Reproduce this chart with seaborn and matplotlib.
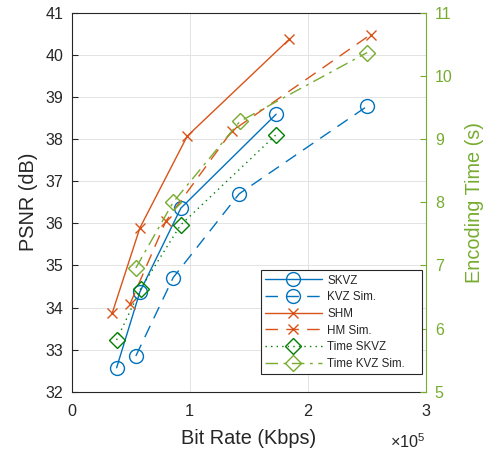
import matplotlib
matplotlib.use("Agg")
import matplotlib.pyplot as plt
import matplotlib.ticker as mticker
from matplotlib.lines import Line2D
import seaborn as sns
import numpy as np

# ---- data ----
skvz_rate = [38100, 57800, 92500, 173200]
skvz_psnr = [32.57, 34.37, 36.36, 38.59]
kvz_rate = [54400, 86000, 141900, 250300]
kvz_psnr = [32.85, 34.71, 36.70, 38.78]
shm_rate = [34400, 57800, 97900, 184300]
shm_psnr = [33.87, 35.89, 38.07, 40.37]
hm_rate = [49400, 79800, 135700, 253200]
hm_psnr = [34.08, 36.05, 38.19, 40.48]
tskvz_rate = [38100, 58400, 92300, 173200]
tskvz_time = [5.82, 6.63, 7.64, 9.07]
tkvz_rate = [54400, 86000, 142500, 250300]
tkvz_time = [6.96, 8.00, 9.28, 10.37]

labels = ["SKVZ", "KVZ Sim.", "SHM", "HM Sim.", "Time SKVZ", "Time KVZ Sim."]
x_ticks = [0, 100000, 200000, 300000]

BLUE = "#0072BD"
ORANGE = "#D95319"
DGREEN = "#008000"
LGREEN = "#77AC30"
AXC = "#262626"

sns.set_style("white")
plt.rcParams["font.family"] = ["Liberation Sans", "DejaVu Sans"]
plt.rcParams["mathtext.fontset"] = "custom"
plt.rcParams["mathtext.rm"] = "Liberation Sans"

fig = plt.figure(figsize=(4.94, 4.55), dpi=100)
ax = fig.add_axes([0.145, 0.139, 0.717, 0.833])
ax2 = ax.twinx()

lw = 1.0
specs = [
    (ax, skvz_rate, skvz_psnr, BLUE, "o", "-", 10),
    (ax, kvz_rate, kvz_psnr, BLUE, "o", (0, (9, 6)), 10),
    (ax, shm_rate, shm_psnr, ORANGE, "x", "-", 7),
    (ax, hm_rate, hm_psnr, ORANGE, "x", (0, (9, 6)), 7),
    (ax2, tskvz_rate, tskvz_time, DGREEN, "D", (0, (1, 3)), 8),
    (ax2, tkvz_rate, tkvz_time, LGREEN, "D", (0, (9, 4, 2, 4)), 8),
]
handles = []
for (a, xs, ys, c, m, ls, ms), lab in zip(specs, labels):
    sns.lineplot(x=xs, y=ys, ax=a, color=c, marker=m, linestyle=ls, lw=lw,
                 markersize=ms, mfc="none", mec=c, mew=1.0, sort=False)
    handles.append(Line2D([], [], color=c, marker=m, linestyle=ls, lw=lw,
                          markersize=ms, mfc="none", mec=c, mew=1.0, label=lab))

ax.set_xlim(0, 300000)
ax.set_ylim(32, 41)
ax.set_yticks(np.arange(32, 42, 1))
ax.set_xticks(x_ticks)
ax.xaxis.set_major_formatter(mticker.FuncFormatter(lambda v, p: f"{v/1e5:g}"))
ax2.set_ylim(5, 11)
ax2.set_yticks(np.arange(5, 12, 1))

ax.grid(True, color="#e3e3e3", lw=0.7)
ax.set_axisbelow(True)

for s in ["left", "bottom", "top"]:
    ax.spines[s].set_color(AXC)
    ax.spines[s].set_linewidth(0.8)
ax.spines["right"].set_visible(False)
for s in ["left", "bottom", "top"]:
    ax2.spines[s].set_visible(False)
ax2.spines["right"].set_color(LGREEN)
ax2.spines["right"].set_linewidth(0.8)

ax.tick_params(axis="x", direction="in", length=4, width=0.8, colors=AXC,
               labelsize=11.7, pad=9)
ax.tick_params(axis="y", direction="in", length=4, width=0.8, colors=AXC,
               labelsize=11.5, pad=6)
ax2.tick_params(axis="y", direction="in", length=4, width=0.8, colors=LGREEN,
                labelsize=11.5, pad=6.5)

ax.text(1.0, -0.107, r"$\times10^{5}$", transform=ax.transAxes,
        ha="right", va="top", fontsize=11.7, color=AXC)

ax.set_xlabel("Bit Rate (Kbps)", fontsize=14.3, color=AXC, labelpad=7)
ax.set_ylabel("PSNR (dB)", fontsize=14.3, color=AXC, labelpad=5)
ax2.set_ylabel("Encoding Time (s)", fontsize=14.3, color=LGREEN, labelpad=9)

leg = ax2.legend(handles=handles, loc="lower left",
                 bbox_to_anchor=(0.534, 0.047, 0.454, 0.27), mode="expand",
                 fontsize=8.4, frameon=True,
                 fancybox=False, edgecolor="#262626", framealpha=1,
                 handlelength=4.9, handletextpad=0.45, borderpad=0.35,
                 labelspacing=0.40, borderaxespad=0)
leg.get_frame().set_linewidth(0.8)

fig.savefig("out.png", dpi=100)
